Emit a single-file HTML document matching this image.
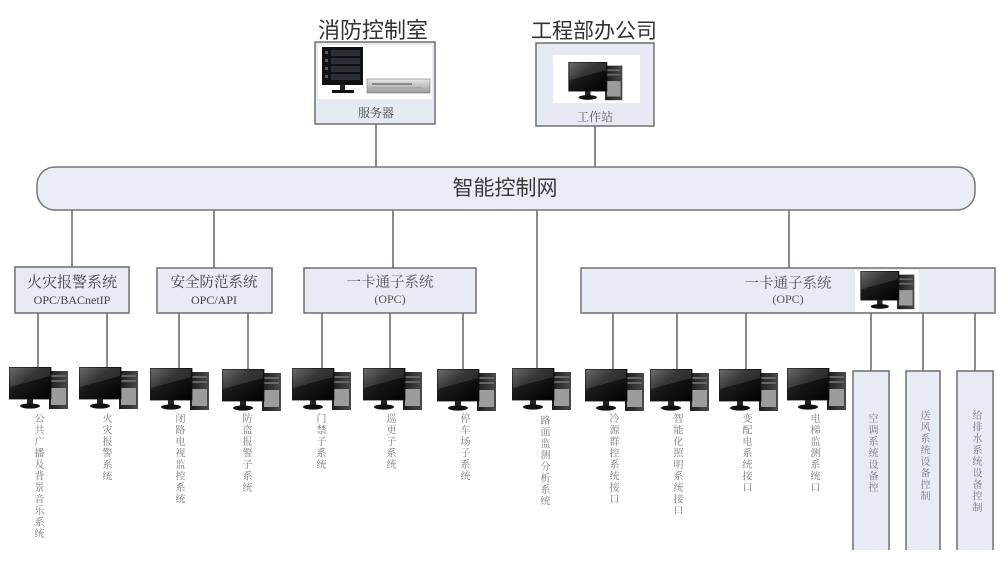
<!DOCTYPE html>
<html>
<head>
<meta charset="utf-8">
<style>
  html,body{margin:0;padding:0;background:#fff;}
  #wrap{position:relative;width:1000px;height:563px;overflow:hidden;background:#fff;}
  svg{position:absolute;left:0;top:0;}
  .v{position:absolute;top:413px;writing-mode:vertical-rl;font-family:"Liberation Serif","Noto Serif CJK SC",serif;font-size:10px;line-height:10px;letter-spacing:1.5px;color:#777;width:10px;}
</style>
</head>
<body>
<div id="wrap">
<svg width="1000" height="563" viewBox="0 0 1000 563" xmlns="http://www.w3.org/2000/svg">
  <defs>
    <linearGradient id="scr" x1="0" y1="0" x2="1" y2="1">
      <stop offset="0" stop-color="#5a5a5a"/>
      <stop offset="0.4" stop-color="#1a1a1a"/>
      <stop offset="1" stop-color="#000"/>
    </linearGradient>
    <linearGradient id="twr" x1="0" y1="0" x2="1" y2="0">
      <stop offset="0" stop-color="#1c1c1c"/>
      <stop offset="1" stop-color="#4a4a4a"/>
    </linearGradient>
    <linearGradient id="srv" x1="0" y1="0" x2="0" y2="1">
      <stop offset="0" stop-color="#e8e8e8"/>
      <stop offset="1" stop-color="#9a9a9a"/>
    </linearGradient>
    <symbol id="pc" viewBox="0 0 60 44">
      <rect x="40" y="4" width="19" height="38" fill="url(#twr)"/>
      <rect x="42" y="21" width="15" height="17" fill="#9c9c9c"/>
      <rect x="42" y="8" width="15" height="2" fill="#666"/>
      <rect x="42" y="13" width="15" height="2" fill="#666"/>
      <rect x="0" y="0" width="42" height="32" fill="url(#scr)" stroke="#111" stroke-width="0.8"/>
      <path d="M1 1 H41 V9 L1 20 Z" fill="#fff" opacity="0.12"/>
      <rect x="18" y="32" width="6" height="5" fill="#222"/>
      <ellipse cx="21" cy="39" rx="10" ry="2.6" fill="#111"/>
    </symbol>
  </defs>

  <!-- titles -->
  <text x="373" y="38" text-anchor="middle" font-family="'Liberation Sans','Noto Sans CJK SC',sans-serif" font-size="22" fill="#333">消防控制室</text>
  <text x="594" y="38" text-anchor="middle" font-family="'Liberation Sans','Noto Sans CJK SC',sans-serif" font-size="21" fill="#333">工程部办公司</text>

  <!-- server box -->
  <rect x="315" y="42" width="120" height="82" fill="#e6ebf3" stroke="#6f6f6f" stroke-width="1.5"/>
  <rect x="318" y="45" width="114" height="54" fill="#fff"/>
  <rect x="322" y="47" width="41" height="38" fill="#111"/>
  <g fill="#556">
    <rect x="325" y="51" width="3" height="3"/><rect x="325" y="59" width="3" height="3"/><rect x="325" y="67" width="3" height="3"/><rect x="325" y="75" width="3" height="3"/>
    <rect x="331" y="50" width="29" height="6" fill="#2a2f38"/><rect x="331" y="58" width="29" height="6" fill="#2a2f38"/><rect x="331" y="66" width="29" height="6" fill="#2a2f38"/><rect x="331" y="74" width="29" height="6" fill="#2a2f38"/>
  </g>
  <rect x="340" y="85" width="5" height="5" fill="#222"/>
  <rect x="332" y="90" width="22" height="3" fill="#111"/>
  <rect x="367" y="79" width="63" height="14" fill="url(#srv)" stroke="#777" stroke-width="0.6"/>
  <rect x="372" y="83" width="40" height="2" fill="#888"/>
  <rect x="372" y="87" width="50" height="1.5" fill="#aaa"/>
  <text x="376" y="117" text-anchor="middle" font-family="'Liberation Serif','Noto Serif CJK SC',serif" font-size="12" fill="#444">服务器</text>

  <!-- workstation box -->
  <rect x="536" y="43" width="118" height="83" fill="#e6ebf3" stroke="#6f6f6f" stroke-width="1.5"/>
  <rect x="553" y="55" width="87" height="48" fill="#fff"/>
  <use href="#pc" x="566" y="62" width="60" height="40"/>
  <text x="595" y="121" text-anchor="middle" font-family="'Liberation Serif','Noto Serif CJK SC',serif" font-size="12" fill="#555">工作站</text>

  <!-- connectors -->
  <g stroke="#666" stroke-width="1.5" fill="none">
    <line x1="376" y1="124" x2="376" y2="167"/>
    <line x1="595" y1="126" x2="595" y2="167"/>
    <line x1="72" y1="210" x2="72" y2="267"/>
    <line x1="214" y1="210" x2="214" y2="268"/>
    <line x1="393" y1="210" x2="393" y2="268"/>
    <line x1="789" y1="210" x2="789" y2="268"/>
    <line x1="537" y1="210" x2="537" y2="368"/>
    <line x1="38" y1="313" x2="38" y2="368"/>
    <line x1="107" y1="313" x2="107" y2="368"/>
    <line x1="179" y1="313" x2="179" y2="369"/>
    <line x1="248" y1="313" x2="248" y2="369"/>
    <line x1="322" y1="313" x2="322" y2="368"/>
    <line x1="390" y1="313" x2="390" y2="368"/>
    <line x1="463" y1="313" x2="463" y2="369"/>
    <line x1="613" y1="313" x2="613" y2="369"/>
    <line x1="677" y1="313" x2="677" y2="369"/>
    <line x1="746" y1="313" x2="746" y2="369"/>
    <line x1="871" y1="313" x2="871" y2="371"/>
    <line x1="923" y1="313" x2="923" y2="371"/>
    <line x1="975" y1="313" x2="975" y2="371"/>
  </g>

  <!-- bus -->
  <rect x="37" y="167" width="938" height="43" rx="18" ry="18" fill="#e8edf6" stroke="#777" stroke-width="1.5"/>
  <text x="505" y="195" text-anchor="middle" font-family="'Liberation Sans','Noto Sans CJK SC',sans-serif" font-size="21" fill="#3a3a3a">智能控制网</text>

  <!-- subsystem boxes -->
  <g fill="#e6ebf4" stroke="#6f6f6f" stroke-width="1.5">
    <rect x="15" y="267" width="114" height="46"/>
    <rect x="157" y="268" width="115" height="45"/>
    <rect x="304" y="268" width="172" height="45"/>
    <rect x="581" y="268" width="414" height="45"/>
  </g>
  <g font-family="'Liberation Serif','Noto Serif CJK SC',serif" fill="#444" text-anchor="middle">
    <text x="72" y="287" font-size="15">火灾报警系统</text>
    <text x="72" y="304" font-size="12">OPC/BACnetIP</text>
    <text x="214" y="287" font-size="14.5">安全防范系统</text>
    <text x="214" y="304" font-size="12">OPC/API</text>
    <text x="390" y="287" font-size="14.5" fill="#555">一卡通子系统</text>
    <text x="390" y="303" font-size="12" fill="#555">(OPC)</text>
    <text x="788" y="288" font-size="14.5" fill="#555">一卡通子系统</text>
    <text x="788" y="303" font-size="12" fill="#555">(OPC)</text>
  </g>
  <rect x="855" y="270" width="64" height="42" fill="#fff"/>
  <use href="#pc" x="858" y="271" width="60" height="40"/>

  <!-- vertical device boxes -->
  <g fill="#e6ebf4" stroke="#6f6f6f" stroke-width="1.5">
    <path d="M853 550 V371 H889 V550"/>
    <path d="M906 550 V371 H940 V550"/>
    <path d="M957 550 V371 H993 V550"/>
  </g>

  <!-- bottom computers -->
  <use href="#pc" x="9" y="367" width="60" height="44"/>
  <use href="#pc" x="79" y="367" width="60" height="44"/>
  <use href="#pc" x="150" y="368" width="60" height="44"/>
  <use href="#pc" x="222" y="369" width="60" height="44"/>
  <use href="#pc" x="292" y="368" width="60" height="44"/>
  <use href="#pc" x="363" y="368" width="60" height="44"/>
  <use href="#pc" x="437" y="369" width="60" height="44"/>
  <use href="#pc" x="512" y="368" width="60" height="44"/>
  <use href="#pc" x="585" y="369" width="60" height="44"/>
  <use href="#pc" x="650" y="369" width="60" height="44"/>
  <use href="#pc" x="719" y="369" width="60" height="44"/>
  <use href="#pc" x="787" y="368" width="60" height="44"/>
</svg>

<!-- vertical labels -->
<div class="v" style="left:32px;">公共广播及背景音乐系统</div>
<div class="v" style="left:100px;">火灾报警系统</div>
<div class="v" style="left:173px;">闭路电视监控系统</div>
<div class="v" style="left:240px;">防盗报警子系统</div>
<div class="v" style="left:314px;">门禁子系统</div>
<div class="v" style="left:384px;">巡更子系统</div>
<div class="v" style="left:458px;">停车场子系统</div>
<div class="v" style="left:538px;top:415px;">路面监测分析系统</div>
<div class="v" style="left:607px;">冷源群控系统接口</div>
<div class="v" style="left:671px;">智能化照明系统接口</div>
<div class="v" style="left:740px;">变配电系统接口</div>
<div class="v" style="left:808px;">电梯监测系统口</div>
<div class="v" style="left:866px;">空调系统设备控</div>
<div class="v" style="left:918px;top:410px;">送风系统设备控制</div>
<div class="v" style="left:970px;top:410px;">给排水系统设备控制</div>
</div>
</body>
</html>
